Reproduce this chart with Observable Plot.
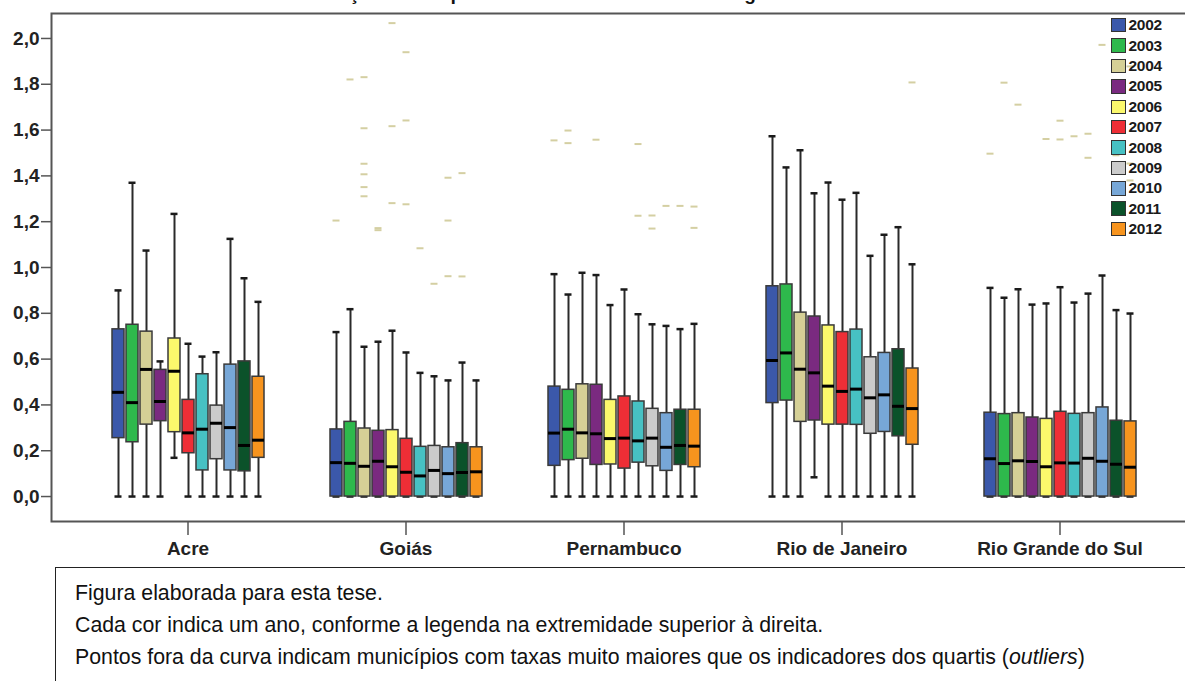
<!DOCTYPE html>
<html>
<head>
<meta charset="utf-8">
<script src="https://cdn.jsdelivr.net/npm/d3@7"></script>
<script src="https://cdn.jsdelivr.net/npm/@observablehq/plot@0.6"></script>
<style>
  html, body { margin: 0; padding: 0; background: #fff; }
  #page { position: relative; width: 1185px; height: 681px; overflow: hidden;
          font-family: "Liberation Sans", Arial, sans-serif; }
  #title { position: absolute; left: 0; width: 1185px; top: -16px; text-align: center;
           font-weight: bold; font-size: 19px; line-height: 20px; letter-spacing: 3.5px;
           color: #111; white-space: nowrap; }
  #chart { position: absolute; left: 0; top: 0; width: 1195px; }
  #legend { position: absolute; left: 1111px; top: 15px; }
  #legend .row { display: flex; align-items: center; height: 20.4px; }
  #legend .sw { width: 12.5px; height: 12.5px; border: 1.5px solid #333; margin-right: 3px; }
  #legend .lab { font-weight: bold; font-size: 15.5px; color: #1a1a1a; letter-spacing: -0.3px; }
  #note { position: absolute; left: 55px; top: 567px; width: 1200px; height: 200px;
          border: 1.5px solid #222; box-sizing: border-box; padding: 9px 0 0 19px;
          font-size: 21.3px; line-height: 32px; color: #111; }
</style>
</head>
<body>
<div id="page">
  <div id="title">Distribuição em quartis mostrada em diagramas de caixa</div>
  <div id="chart"></div>
  <div id="legend"></div>
  <div id="note">
    <div>Figura elaborada para esta tese.</div>
    <div>Cada cor indica um ano, conforme a legenda na extremidade superior à direita.</div>
    <div>Pontos fora da curva indicam municípios com taxas muito maiores que os indicadores dos quartis (<i>outliers</i>)</div>
  </div>
</div>
<script>
// States (groups) and years (boxes inside each group)
const states = ["Acre", "Goiás", "Pernambuco", "Rio de Janeiro", "Rio Grande do Sul"];
const years = [2002, 2003, 2004, 2005, 2006, 2007, 2008, 2009, 2010, 2011, 2012];
const yearColors = ["#3b58aa", "#2eb94c", "#d5d096", "#7a2a80", "#fbf86c", "#ee2e36",
                    "#47c1c3", "#cbcbcb", "#77a7d7", "#0b522a", "#f7941e"];
const yTicks = [0, 0.2, 0.4, 0.6, 0.8, 1.0, 1.2, 1.4, 1.6, 1.8, 2.0];

// Box statistics, one row per state, one column per year
const whiskerHigh = [
  [0.900, 1.370, 1.074, 0.590, 1.234, 0.667, 0.611, 0.630, 1.125, 0.953, 0.850],
  [0.718, 0.818, 0.654, 0.676, 0.724, 0.629, 0.540, 0.525, 0.507, 0.585, 0.507],
  [0.971, 0.882, 0.977, 0.967, 0.836, 0.904, 0.796, 0.752, 0.745, 0.731, 0.754],
  [1.573, 1.437, 1.512, 1.324, 1.371, 1.296, 1.326, 1.051, 1.143, 1.176, 1.014],
  [0.911, 0.868, 0.905, 0.838, 0.843, 0.914, 0.847, 0.886, 0.965, 0.814, 0.799]
];
const upperQuartile = [
  [0.730, 0.750, 0.720, 0.553, 0.690, 0.422, 0.534, 0.397, 0.576, 0.590, 0.523],
  [0.293, 0.326, 0.297, 0.287, 0.290, 0.252, 0.217, 0.221, 0.215, 0.233, 0.215],
  [0.480, 0.466, 0.490, 0.488, 0.422, 0.437, 0.415, 0.383, 0.364, 0.379, 0.379],
  [0.918, 0.926, 0.803, 0.786, 0.747, 0.718, 0.729, 0.608, 0.627, 0.643, 0.559],
  [0.366, 0.360, 0.364, 0.345, 0.339, 0.370, 0.361, 0.364, 0.389, 0.331, 0.328]
];
const medians = [
  [0.455, 0.410, 0.555, 0.415, 0.547, 0.278, 0.294, 0.320, 0.301, 0.223, 0.246],
  [0.148, 0.145, 0.132, 0.154, 0.130, 0.106, 0.090, 0.114, 0.100, 0.105, 0.108],
  [0.277, 0.294, 0.278, 0.274, 0.253, 0.255, 0.243, 0.255, 0.215, 0.223, 0.220],
  [0.594, 0.627, 0.556, 0.540, 0.482, 0.459, 0.469, 0.431, 0.444, 0.394, 0.384],
  [0.165, 0.144, 0.156, 0.153, 0.130, 0.147, 0.146, 0.167, 0.154, 0.141, 0.128]
];
const lowerQuartile = [
  [0.255, 0.237, 0.314, 0.329, 0.281, 0.189, 0.114, 0.163, 0.114, 0.110, 0.169],
  [0, 0, 0, 0, 0, 0, 0, 0, 0, 0, 0],
  [0.134, 0.159, 0.165, 0.138, 0.140, 0.122, 0.148, 0.132, 0.112, 0.138, 0.128],
  [0.408, 0.419, 0.326, 0.332, 0.314, 0.314, 0.313, 0.274, 0.282, 0.263, 0.226],
  [0, 0, 0, 0, 0, 0, 0, 0, 0, 0, 0]
];
const whiskerLow = [
  [0, 0, 0, 0, 0.169, 0, 0, 0, 0, 0, 0],
  [0, 0, 0, 0, 0, 0, 0, 0, 0, 0, 0],
  [0, 0, 0, 0, 0, 0, 0, 0, 0, 0, 0],
  [0, 0, 0, 0.084, 0, 0, 0, 0, 0, 0, 0],
  [0, 0, 0, 0, 0, 0, 0, 0, 0, 0, 0]
];

// Outlying municipalities: [state, year, rate]
const outliers = [
  ["Goiás", 2002, 1.205], ["Goiás", 2003, 1.821], ["Goiás", 2004, 1.831], ["Goiás", 2004, 1.608],
  ["Goiás", 2004, 1.453], ["Goiás", 2004, 1.407], ["Goiás", 2004, 1.351], ["Goiás", 2004, 1.311],
  ["Goiás", 2005, 1.163], ["Goiás", 2005, 1.172], ["Goiás", 2006, 2.067], ["Goiás", 2006, 1.617],
  ["Goiás", 2006, 1.281], ["Goiás", 2007, 1.940], ["Goiás", 2007, 1.642], ["Goiás", 2007, 1.276],
  ["Goiás", 2008, 1.084], ["Goiás", 2009, 0.929], ["Goiás", 2010, 1.392], ["Goiás", 2010, 1.205],
  ["Goiás", 2010, 0.962], ["Goiás", 2011, 1.412], ["Goiás", 2011, 0.961],
  ["Pernambuco", 2002, 1.555], ["Pernambuco", 2003, 1.598], ["Pernambuco", 2003, 1.543],
  ["Pernambuco", 2005, 1.558], ["Pernambuco", 2008, 1.539], ["Pernambuco", 2008, 1.226],
  ["Pernambuco", 2009, 1.227], ["Pernambuco", 2009, 1.170], ["Pernambuco", 2010, 1.269],
  ["Pernambuco", 2011, 1.269], ["Pernambuco", 2012, 1.266], ["Pernambuco", 2012, 1.173],
  ["Rio de Janeiro", 2012, 1.808],
  ["Rio Grande do Sul", 2002, 1.497], ["Rio Grande do Sul", 2003, 1.807], ["Rio Grande do Sul", 2004, 1.711],
  ["Rio Grande do Sul", 2006, 1.561], ["Rio Grande do Sul", 2007, 1.641], ["Rio Grande do Sul", 2007, 1.559],
  ["Rio Grande do Sul", 2008, 1.573], ["Rio Grande do Sul", 2009, 1.584], ["Rio Grande do Sul", 2009, 1.479],
  ["Rio Grande do Sul", 2010, 1.972], ["Rio Grande do Sul", 2011, 1.490], ["Rio Grande do Sul", 2012, 1.878],
  ["Rio Grande do Sul", 2012, 1.454], ["Rio Grande do Sul", 2012, 1.380]
].map(([state, year, value]) => ({state, year, value}));

const boxes = states.flatMap((state, i) => years.map((year, j) => ({
  state, year,
  lo: whiskerLow[i][j], q1: lowerQuartile[i][j], med: medians[i][j],
  q3: upperQuartile[i][j], hi: whiskerHigh[i][j]
})));

const fmt = d => d.toFixed(1).replace(".", ",");
const marginLeft = 51;

// The y axis and the frame sit on the facets; edgeShift pushes them out to the outer plot edge.
function render(edgeShift) {
  return Plot.plot({
    width: 1195,
    height: 570,
    marginTop: 13,
    marginLeft,
    marginRight: 0,
    marginBottom: 49,
    style: {fontFamily: "'Liberation Sans', Arial, sans-serif", background: "transparent",
            overflow: "visible", maxWidth: "none"},
    fx: {domain: states, paddingInner: 0.29, paddingOuter: 0.26, label: null},
    x: {domain: years, paddingInner: 0.15, paddingOuter: 0.1, axis: null},
    y: {domain: [-0.109, 2.109], axis: null},
    color: {domain: years, range: yearColors},
    marks: [
      Plot.frame({facet: "super", stroke: "#555", strokeWidth: 2,
                  insetLeft: -edgeShift, insetRight: -edgeShift}),
      Plot.axisY({ticks: yTicks, tickSize: 10, tickPadding: 2, tickFormat: fmt, dx: -edgeShift,
                  fontSize: 19, fontWeight: "bold", fill: "#222", stroke: "#555", strokeWidth: 1.5, label: null}),
      Plot.axisFx({anchor: "bottom", tickSize: 14, tickPadding: 6, fontSize: 19, fontWeight: "bold",
                   fill: "#222", stroke: "#555", strokeWidth: 1.5, label: null}),
      // outlier dashes
      Plot.tickY(outliers, {fx: "state", x: "year", y: "value", stroke: "#d4cfa2", strokeWidth: 2,
                            insetLeft: 2.5, insetRight: 2.5}),
      // whiskers and caps
      Plot.ruleX(boxes, {fx: "state", x: "year", y1: "lo", y2: "hi", stroke: "#2a2a2a", strokeWidth: 2}),
      Plot.tickY(boxes, {fx: "state", x: "year", y: "hi", stroke: "#1a1a1a", strokeWidth: 2.5,
                         insetLeft: 2.5, insetRight: 2.5}),
      Plot.tickY(boxes, {fx: "state", x: "year", y: "lo", stroke: "#1a1a1a", strokeWidth: 2.5,
                         insetLeft: 2.5, insetRight: 2.5}),
      // interquartile boxes
      Plot.barY(boxes, {fx: "state", x: "year", y1: "q1", y2: "q3", fill: "year",
                        stroke: "#3a3a3a", strokeWidth: 1.5}),
      // medians
      Plot.tickY(boxes, {fx: "state", x: "year", y: "med", stroke: "#000", strokeWidth: 3})
    ]
  });
}

const probe = render(0);
const shift = probe.scale("fx").apply(states[0]) - marginLeft;
document.getElementById("chart").appendChild(render(shift));

// Year legend in the upper right corner
const legend = document.getElementById("legend");
years.forEach((year, i) => {
  const row = document.createElement("div");
  row.className = "row";
  const sw = document.createElement("div");
  sw.className = "sw";
  sw.style.background = yearColors[i];
  const lab = document.createElement("span");
  lab.className = "lab";
  lab.textContent = year;
  row.appendChild(sw);
  row.appendChild(lab);
  legend.appendChild(row);
});
</script>
</body>
</html>
